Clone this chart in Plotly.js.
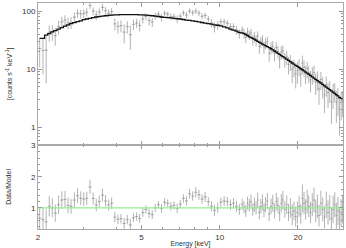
<!DOCTYPE html>
<html>
<head>
<meta charset="utf-8">
<script src="https://cdn.plot.ly/plotly-3.0.1.min.js"></script>
<style>html,body{margin:0;padding:0;background:#fff;}#chart{width:346px;height:248px;}</style>
</head>
<body>
<div id="chart"></div>
<script>
// Bin centre energies [keV]
const energy = [
  2.03, 2.09, 2.15, 2.21, 2.27, 2.33, 2.40, 2.47, 2.54, 2.61,
  2.68, 2.76, 2.84, 2.92, 3.00, 3.08, 3.17, 3.26, 3.35, 3.44,
  3.54, 3.64, 3.74, 3.84, 3.95,
  4.06, 4.17, 4.29, 4.41, 4.53, 4.66, 4.79, 4.92,
  5.06, 5.20, 5.35, 5.50, 5.65, 5.81, 5.97, 6.14, 6.31, 6.49,
  6.67, 6.86, 7.05, 7.25, 7.45, 7.66, 7.87, 8.09, 8.32, 8.55,
  8.79, 9.04, 9.29, 9.55, 9.82,
  10.1, 10.4, 10.7, 11.0, 11.3, 11.6, 11.9,
  12.2, 12.4, 12.6, 12.8, 13.0, 13.2, 13.4, 13.6, 13.8, 14.0,
  14.2, 14.4, 14.6, 14.8, 15.0, 15.25, 15.5, 15.75, 16.0, 16.25,
  16.5, 16.75, 17.0, 17.25, 17.5, 17.8, 18.1, 18.4, 18.7, 19.0,
  19.3, 19.6, 19.9, 20.2, 20.5, 20.8, 21.1, 21.4, 21.7, 22.0,
  22.35, 22.7, 23.05, 23.4, 23.75, 24.1, 24.5, 24.9, 25.3, 25.7,
  26.1, 26.5, 26.9, 27.3, 27.7, 28.1, 28.5, 28.9, 29.3, 29.7
];
// Folded model [counts s^-1 keV^-1] at each bin
const modelAtE = [
  34, 34, 38.6, 41, 44, 46, 49, 52, 55, 58,
  61, 63, 66, 68, 71, 73, 75, 77, 79, 80,
  82, 83, 84, 85, 86,
  86, 86.5, 87, 87, 87, 87, 86.5, 86,
  86, 85, 84, 83, 82, 80.5, 79, 78, 77, 76,
  75, 74, 73, 71.5, 70, 69, 68, 66.5, 65, 63.5,
  62, 61, 59.5, 58, 57,
  55.5, 53.5, 51.5, 49, 47, 45, 43,
  42, 41, 39.5, 38, 36, 35, 34, 33, 31.5, 30,
  29, 28, 27, 26.2, 25.5, 24.5, 23.5, 22.5, 21.5, 20.6,
  19.7, 18.8, 18, 17.2, 16.5, 15.7, 14.9, 14.2, 13.5, 12.8,
  12.2, 11.7, 11.2, 10.7, 10.2, 9.8, 9.35, 8.95, 8.55, 8.2,
  7.8, 7.4, 7.05, 6.7, 6.4, 6.1, 5.8, 5.5, 5.2, 4.95,
  4.7, 4.45, 4.25, 4.05, 3.85, 3.65, 3.5, 3.3, 3.15, 3.0
];
// Data/Model ratio
const ratio = [
  0.67, 0.62, 0.55, 1.05, 1.00, 0.83, 1.10, 1.25, 1.27, 1.08,
  1.05, 1.25, 1.39, 1.31, 1.28, 1.31, 1.67, 1.30, 1.09, 1.20,
  1.41, 1.22, 1.09, 1.15, 0.70,
  0.63, 0.65, 0.50, 0.62, 0.45, 0.68, 0.72, 0.66,
  0.85, 0.95, 0.82, 0.78, 1.00, 1.10, 0.98, 1.18, 1.15, 1.05,
  1.08, 0.98, 1.12, 1.30, 1.22, 1.45, 1.38, 1.50, 1.42, 1.28,
  1.35, 1.20, 1.05, 0.92, 1.00,
  1.18, 1.22, 1.20, 1.10, 1.15, 1.05, 0.95,
  1.12, 1.02, 0.90, 1.15, 1.08, 1.20, 0.95, 1.10, 1.00, 1.25,
  0.85, 1.05, 1.18, 0.92, 1.10, 1.22, 0.80, 1.05, 1.15, 0.90,
  1.20, 1.08, 0.82, 1.15, 1.25, 0.95, 1.10, 0.85, 1.00, 0.78,
  0.90, 0.72, 0.85, 1.05, 0.80, 1.30, 1.15, 0.95, 1.20, 1.05,
  0.85, 1.10, 1.25, 0.90, 1.05, 0.75, 1.15, 0.95, 0.70, 1.10,
  0.85, 1.00, 0.65, 0.95, 1.10, 0.75, 0.90, 0.62, 0.85, 0.95
];
// 1-sigma error on the ratio
const ratioErr = [
  0.35, 0.38, 0.40, 0.33, 0.30, 0.28, 0.30, 0.28, 0.27, 0.25,
  0.24, 0.25, 0.24, 0.22, 0.22, 0.21, 0.22, 0.20, 0.20, 0.19,
  0.20, 0.19, 0.18, 0.18, 0.16,
  0.15, 0.15, 0.18, 0.15, 0.20, 0.14, 0.13, 0.14,
  0.14, 0.13, 0.15, 0.14, 0.13, 0.12, 0.14, 0.13, 0.12, 0.14,
  0.13, 0.15, 0.13, 0.14, 0.15, 0.16, 0.15, 0.17, 0.16, 0.15,
  0.16, 0.15, 0.17, 0.18, 0.16,
  0.15, 0.16, 0.15, 0.17, 0.16, 0.18, 0.17,
  0.18, 0.20, 0.19, 0.21, 0.20, 0.22, 0.20, 0.23, 0.21, 0.24,
  0.22, 0.23, 0.25, 0.22, 0.24, 0.26, 0.23, 0.25, 0.27, 0.24,
  0.28, 0.26, 0.25, 0.29, 0.30, 0.27, 0.30, 0.28, 0.31, 0.33,
  0.30, 0.32, 0.35, 0.34, 0.31, 0.45, 0.36, 0.33, 0.38, 0.35,
  0.34, 0.37, 0.40, 0.36, 0.38, 0.35, 0.40, 0.38, 0.36, 0.42,
  0.39, 0.41, 0.38, 0.44, 0.40, 0.42, 0.45, 0.40, 0.43, 0.45
];
const xTickVals = [2, 5, 10, 20];
const xMinorVals = [3, 4, 6, 7, 8, 9];
const yTopTickVals = [1, 10, 100];
const yTopMinorVals = [0.6, 0.7, 0.8, 0.9, 2, 3, 4, 5, 6, 7, 8, 9, 20, 30, 40, 50, 60, 70, 80, 90];
const yBotTickVals = [1, 2, 3];
const yBotMinorVals = [0.4, 0.6, 0.8, 1.2, 1.4, 1.6, 1.8, 2.2, 2.4, 2.6, 2.8];
const unityX = [2, 30];
const unityY = [1, 1];

// derived quantities
const rate = energy.map((e, i) => ratio[i] * modelAtE[i]);
const rateErr = energy.map((e, i) => ratioErr[i] * modelAtE[i]);
const halfW = energy.map((e, i) => {
  const lo = i > 0 ? (e - energy[i - 1]) / 2 : (energy[1] - e) / 2;
  const hi = i < energy.length - 1 ? (energy[i + 1] - e) / 2 : (e - energy[i - 1]) / 2;
  return [lo, hi];
});
const ewMinus = halfW.map(h => h[0]);
const ewPlus = halfW.map(h => h[1]);

const dataCol = '#8c8c8c';
const barCol = '#b2b2b2';
const errY = (arr) => ({type: 'data', array: arr, visible: true, color: barCol, thickness: 1, width: 0});
const errX = {type: 'data', array: ewPlus, arrayminus: ewMinus, symmetric: false, visible: true, color: barCol, thickness: 1, width: 0};

const traces = [
  {
    x: energy, y: rate, type: 'scatter', mode: 'markers', xaxis: 'x', yaxis: 'y',
    marker: {size: 1, color: dataCol},
    error_y: errY(rateErr), error_x: errX,
    hoverinfo: 'skip', showlegend: false
  },
  {
    x: energy, y: modelAtE, type: 'scatter', mode: 'lines', xaxis: 'x', yaxis: 'y',
    line: {color: '#111', width: 1.3, shape: 'hvh'}, showlegend: false, hoverinfo: 'skip'
  },
  {
    x: energy, y: ratio, type: 'scatter', mode: 'markers', xaxis: 'x2', yaxis: 'y2',
    marker: {size: 1, color: dataCol},
    error_y: errY(ratioErr), error_x: errX,
    hoverinfo: 'skip', showlegend: false
  },
  {
    x: unityX, y: unityY, type: 'scatter', mode: 'lines', xaxis: 'x2', yaxis: 'y2',
    line: {color: '#90ee90', width: 1.2}, showlegend: false, hoverinfo: 'skip'
  }
];

const tickFont = {family: 'Liberation Sans, Arial, sans-serif', size: 8, color: '#333'};
const titleFont = {family: 'Liberation Sans, Arial, sans-serif', size: 7, color: '#333'};
const common = {
  showline: true, linecolor: '#aaa', linewidth: 1, mirror: 'ticks',
  ticks: 'inside', ticklen: 4, tickcolor: '#999', tickwidth: 1,
  showgrid: false, zeroline: false, tickfont: tickFont, automargin: false
};
const xRange = [Math.log10(2), Math.log10(29.8)];

const layout = {
  width: 346, height: 248,
  margin: {l: 38, r: 3, t: 3, b: 19, pad: 0},
  paper_bgcolor: '#fff', plot_bgcolor: '#fff',
  showlegend: false,
  xaxis: Object.assign({}, common, {
    type: 'log', range: xRange, anchor: 'y', domain: [0, 1],
    tickmode: 'array', tickvals: xTickVals, showticklabels: false,
    minor: {tickmode: 'array', tickvals: xMinorVals, ticklen: 2, tickcolor: '#999', ticks: 'inside'}
  }),
  yaxis: Object.assign({}, common, {
    type: 'log', range: [-0.30, 2.138], domain: [0.372, 1], anchor: 'x',
    tickmode: 'array', tickvals: yTopTickVals, ticktext: ['1', '10', '100'],
    minor: {tickmode: 'array', tickvals: yTopMinorVals, ticklen: 2, tickcolor: '#999', ticks: 'inside'},
    title: {text: '[counts s<sup>-1</sup> keV<sup>-1</sup>]', font: titleFont, standoff: 8}
  }),
  xaxis2: Object.assign({}, common, {
    type: 'log', range: xRange, anchor: 'y2', domain: [0, 1],
    tickmode: 'array', tickvals: xTickVals, ticktext: ['2', '5', '10', '20'],
    minor: {tickmode: 'array', tickvals: xMinorVals, ticklen: 2, tickcolor: '#999', ticks: 'inside'},
    title: {text: 'Energy [keV]', font: titleFont, standoff: 3}
  }),
  yaxis2: Object.assign({}, common, {
    range: [0.32, 3.02], domain: [0, 0.372], anchor: 'x2',
    tickmode: 'array', tickvals: yBotTickVals, ticktext: ['1', '2', '3'],
    minor: {tickmode: 'array', tickvals: yBotMinorVals, ticklen: 2, tickcolor: '#999', ticks: 'inside'},
    title: {text: 'Data/Model', font: titleFont, standoff: 18}
  })
};

Plotly.newPlot('chart', traces, layout, {staticPlot: true, displayModeBar: false});
</script>
</body>
</html>
